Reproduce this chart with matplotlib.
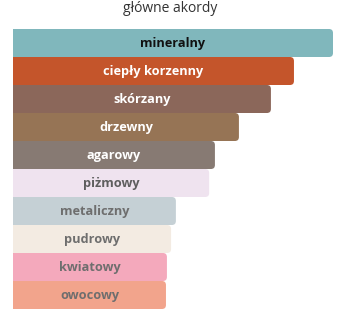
import matplotlib
matplotlib.use("Agg")
import matplotlib.pyplot as plt
from matplotlib.patches import FancyBboxPatch

plt.rcParams['font.family'] = ['Open Sans', 'DejaVu Sans']

accords = ["mineralny", "ciepły korzenny", "skórzany", "drzewny", "agarowy",
           "piżmowy", "metaliczny", "pudrowy", "kwiatowy", "owocowy"]
strength = [100, 87.8, 80.6, 70.6, 63.1, 61.3, 50.9, 49.4, 48.1, 47.8]
bar_colors = ["#80b7bc", "#c4552b", "#8b675a", "#967455", "#877a73",
              "#efe3ef", "#c5d0d5", "#f3ebe2", "#f4a9bc", "#f2a48c"]
text_colors = ["#111111", "#ffffff", "#ffffff", "#ffffff", "#ffffff",
               "#5e5e5e", "#6e6e6e", "#6e6e6e", "#6e6e6e", "#6e6e6e"]

W, H = 341, 314
fig = plt.figure(figsize=(W / 100, H / 100), dpi=100)
ax = fig.add_axes([13 / W, 1 - 309 / H, 320 / W, 280 / H])
ax.set_xlim(0, 100)
ax.set_ylim(len(accords) - 0.5, -0.5)
ax.axis("off")

# corner radius ~4 px, converted to data units on each axis
rx = 4 / 3.2
ry = 4 / 28
for i, (name, w, c, tc) in enumerate(zip(accords, strength, bar_colors, text_colors)):
    ax.barh(i, w - 2 * rx, height=1.03, left=0, color=c, linewidth=0)
    box = FancyBboxPatch((0, i - 0.5), w, 1.0,
                         boxstyle=f"round,pad=0,rounding_size={rx}",
                         mutation_aspect=ry / rx, facecolor=c, edgecolor="none")
    ax.add_patch(box)
    ax.text(w / 2, i, name, ha="center", va="center", color=tc,
            fontsize=9.2, fontweight="bold")

fig.text(0.5, 1 - 8 / H, "główne akordy", ha="center", va="center",
         color="#333333", fontsize=10)

fig.savefig("out.png", dpi=100)
